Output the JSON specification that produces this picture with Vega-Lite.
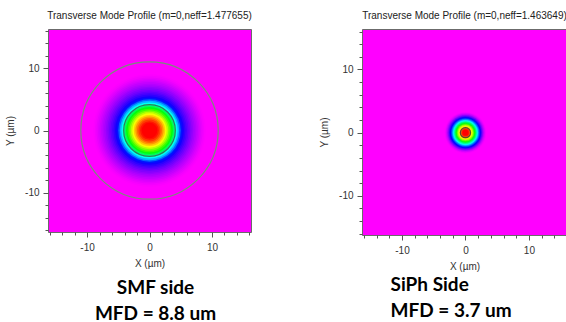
{
  "$schema": "https://vega.github.io/schema/vega-lite/v6.json",
  "background": "white",
  "padding": {"left": 5, "top": 10, "right": 0, "bottom": 0},
  "datasets": {
    "smfRings": [
      {"x": 0, "y": 0, "r": 9.0, "v": 0.003}, {"x": 0, "y": 0, "r": 8.75, "v": 0.009},
      {"x": 0, "y": 0, "r": 8.5, "v": 0.017}, {"x": 0, "y": 0, "r": 8.25, "v": 0.026},
      {"x": 0, "y": 0, "r": 8.0, "v": 0.036}, {"x": 0, "y": 0, "r": 7.75, "v": 0.047},
      {"x": 0, "y": 0, "r": 7.5, "v": 0.058}, {"x": 0, "y": 0, "r": 7.25, "v": 0.07},
      {"x": 0, "y": 0, "r": 7.0, "v": 0.083}, {"x": 0, "y": 0, "r": 6.75, "v": 0.097},
      {"x": 0, "y": 0, "r": 6.5, "v": 0.112}, {"x": 0, "y": 0, "r": 6.25, "v": 0.128},
      {"x": 0, "y": 0, "r": 6.0, "v": 0.145}, {"x": 0, "y": 0, "r": 5.75, "v": 0.163},
      {"x": 0, "y": 0, "r": 5.5, "v": 0.185}, {"x": 0, "y": 0, "r": 5.25, "v": 0.215},
      {"x": 0, "y": 0, "r": 5.0, "v": 0.28}, {"x": 0, "y": 0, "r": 4.75, "v": 0.345},
      {"x": 0, "y": 0, "r": 4.5, "v": 0.41}, {"x": 0, "y": 0, "r": 4.25, "v": 0.475},
      {"x": 0, "y": 0, "r": 4.0, "v": 0.535}, {"x": 0, "y": 0, "r": 3.75, "v": 0.59},
      {"x": 0, "y": 0, "r": 3.5, "v": 0.643}, {"x": 0, "y": 0, "r": 3.25, "v": 0.695},
      {"x": 0, "y": 0, "r": 3.0, "v": 0.745}, {"x": 0, "y": 0, "r": 2.75, "v": 0.792},
      {"x": 0, "y": 0, "r": 2.5, "v": 0.83}, {"x": 0, "y": 0, "r": 2.25, "v": 0.862},
      {"x": 0, "y": 0, "r": 2.0, "v": 0.89}, {"x": 0, "y": 0, "r": 1.75, "v": 0.915},
      {"x": 0, "y": 0, "r": 1.5, "v": 0.938}, {"x": 0, "y": 0, "r": 1.25, "v": 0.958},
      {"x": 0, "y": 0, "r": 1.0, "v": 0.973}, {"x": 0, "y": 0, "r": 0.75, "v": 0.985},
      {"x": 0, "y": 0, "r": 0.5, "v": 0.993}, {"x": 0, "y": 0, "r": 0.25, "v": 0.998}
    ],
    "smfLines": [
      {"x": 0, "y": 0, "r": 4.13, "kind": "core"},
      {"x": 0, "y": 0, "r": 11.0, "kind": "cladding"}
    ],
    "siphRings": [
      {"x": 0, "y": 0, "r": 3.3, "v": 0.004}, {"x": 0, "y": 0, "r": 3.2, "v": 0.012},
      {"x": 0, "y": 0, "r": 3.1, "v": 0.025}, {"x": 0, "y": 0, "r": 3.0, "v": 0.04},
      {"x": 0, "y": 0, "r": 2.9, "v": 0.06}, {"x": 0, "y": 0, "r": 2.8, "v": 0.085},
      {"x": 0, "y": 0, "r": 2.7, "v": 0.11}, {"x": 0, "y": 0, "r": 2.6, "v": 0.14},
      {"x": 0, "y": 0, "r": 2.5, "v": 0.17}, {"x": 0, "y": 0, "r": 2.4, "v": 0.2},
      {"x": 0, "y": 0, "r": 2.3, "v": 0.235}, {"x": 0, "y": 0, "r": 2.2, "v": 0.275},
      {"x": 0, "y": 0, "r": 2.1, "v": 0.32}, {"x": 0, "y": 0, "r": 2.0, "v": 0.37},
      {"x": 0, "y": 0, "r": 1.9, "v": 0.415}, {"x": 0, "y": 0, "r": 1.8, "v": 0.465},
      {"x": 0, "y": 0, "r": 1.7, "v": 0.515}, {"x": 0, "y": 0, "r": 1.6, "v": 0.565},
      {"x": 0, "y": 0, "r": 1.5, "v": 0.61}, {"x": 0, "y": 0, "r": 1.4, "v": 0.655},
      {"x": 0, "y": 0, "r": 1.3, "v": 0.7}, {"x": 0, "y": 0, "r": 1.2, "v": 0.745},
      {"x": 0, "y": 0, "r": 1.1, "v": 0.785}, {"x": 0, "y": 0, "r": 1.0, "v": 0.815},
      {"x": 0, "y": 0, "r": 0.9, "v": 0.845}, {"x": 0, "y": 0, "r": 0.8, "v": 0.875},
      {"x": 0, "y": 0, "r": 0.7, "v": 0.905}, {"x": 0, "y": 0, "r": 0.6, "v": 0.928},
      {"x": 0, "y": 0, "r": 0.5, "v": 0.945}, {"x": 0, "y": 0, "r": 0.4, "v": 0.962},
      {"x": 0, "y": 0, "r": 0.3, "v": 0.978}, {"x": 0, "y": 0, "r": 0.2, "v": 0.99},
      {"x": 0, "y": 0, "r": 0.1, "v": 0.998}
    ],
    "siphLines": [
      {"x": 0, "y": 0, "r": 0.8, "kind": "core"}
    ]
  },
  "spacing": 66,
  "hconcat": [
    {
      "width": 203,
      "height": 203,
      "title": {"text": "Transverse Mode Profile (m=0,neff=1.477655)"},
      "layer": [
        {
          "data": {"name": "smfRings"},
          "mark": {"type": "point", "shape": "circle", "filled": true, "opacity": 1, "strokeWidth": 0},
          "encoding": {
            "x": {"field": "x", "type": "quantitative",
              "scale": {"domain": [-16.25, 16.25], "nice": false, "zero": false},
              "axis": {"orient": "bottom", "title": "X (µm)", "values": [-16,-14,-12,-10,-8,-6,-4,-2,0,2,4,6,8,10,12,14,16],
                "labelExpr": "datum.value % 10 === 0 ? '' + datum.value : ''",
                "tickSize": {"condition": {"test": "datum.value % 10 === 0", "value": 5}, "value": 3},
                "labelPadding": 5, "titlePadding": 6}},
            "y": {"field": "y", "type": "quantitative",
              "scale": {"domain": [-16.25, 16.25], "nice": false, "zero": false},
              "axis": {"title": "Y (µm)", "values": [-16,-14,-12,-10,-8,-6,-4,-2,0,2,4,6,8,10,12,14,16],
                "labelExpr": "datum.value % 10 === 0 ? '' + datum.value : ''",
                "tickSize": {"condition": {"test": "datum.value % 10 === 0", "value": 5}, "value": 3},
                "labelPadding": 4, "titlePadding": 9}},
            "size": {"field": "r", "type": "quantitative",
              "scale": {"type": "pow", "exponent": 2, "domain": [0, 10], "range": [0, 15605]}, "legend": null},
            "color": {"field": "v", "type": "quantitative",
              "scale": {"type": "linear", "domain": [0, 0.2, 0.4, 0.6, 0.8, 0.95],
                "range": ["#ff00ff", "#0000ff", "#00ffff", "#00ff00", "#ffff00", "#ff0000"],
                "interpolate": "rgb", "clamp": true}, "legend": null}
          }
        },
        {
          "data": {"name": "smfLines"},
          "mark": {"type": "point", "shape": "circle", "filled": false, "opacity": 1, "strokeWidth": 1.2},
          "encoding": {
            "x": {"field": "x", "type": "quantitative",
              "scale": {"domain": [-16.25, 16.25], "nice": false, "zero": false},
              "axis": {"orient": "bottom", "title": ["SMF side", "MFD = 8.8 um"], "labels": false, "ticks": false, "domain": false,
                "titleFont": "Lato", "titleFontSize": 19, "titleFontWeight": "bold", "titleColor": "#000000",
                "titleAlign": "center", "titleBaseline": "alphabetic", "titleLineHeight": 26,
                "titleX": 107, "titleY": 61}},
            "y": {"field": "y", "type": "quantitative",
              "scale": {"domain": [-16.25, 16.25], "nice": false, "zero": false},
              "axis": {"title": "Y (µm)", "values": [-16,-14,-12,-10,-8,-6,-4,-2,0,2,4,6,8,10,12,14,16],
                "labelExpr": "datum.value % 10 === 0 ? '' + datum.value : ''",
                "tickSize": {"condition": {"test": "datum.value % 10 === 0", "value": 5}, "value": 3},
                "labelPadding": 4, "titlePadding": 9}},
            "size": {"field": "r", "type": "quantitative",
              "scale": {"type": "pow", "exponent": 2, "domain": [0, 10], "range": [0, 15605]}, "legend": null},
            "stroke": {"field": "kind", "type": "nominal",
              "scale": {"domain": ["core", "cladding"], "range": ["#2e7d5b", "#7a8c7a"]}, "legend": null}
          }
        }
      ],
      "resolve": {"axis": {"x": "independent"}}
    },
    {
      "width": 205,
      "height": 206,
      "title": {"text": "Transverse Mode Profile (m=0,neff=1.463649)"},
      "layer": [
        {
          "data": {"name": "siphRings"},
          "mark": {"type": "point", "shape": "circle", "filled": true, "opacity": 1, "strokeWidth": 0},
          "encoding": {
            "x": {"field": "x", "type": "quantitative",
              "scale": {"domain": [-16.3, 16.0], "nice": false, "zero": false},
              "axis": {"orient": "bottom", "title": "X (µm)", "values": [-16,-14,-12,-10,-8,-6,-4,-2,0,2,4,6,8,10,12,14,16],
                "labelExpr": "datum.value % 10 === 0 ? '' + datum.value : ''",
                "tickSize": {"condition": {"test": "datum.value % 10 === 0", "value": 5}, "value": 3},
                "labelPadding": 5, "titlePadding": 6}},
            "y": {"field": "y", "type": "quantitative",
              "scale": {"domain": [-16.2, 16.4], "nice": false, "zero": false},
              "axis": {"title": "Y (µm)", "values": [-16,-14,-12,-10,-8,-6,-4,-2,0,2,4,6,8,10,12,14,16],
                "labelExpr": "datum.value % 10 === 0 ? '' + datum.value : ''",
                "tickSize": {"condition": {"test": "datum.value % 10 === 0", "value": 5}, "value": 3},
                "labelPadding": 4, "titlePadding": 9}},
            "size": {"field": "r", "type": "quantitative",
              "scale": {"type": "pow", "exponent": 2, "domain": [0, 10], "range": [0, 16028]}, "legend": null},
            "color": {"field": "v", "type": "quantitative",
              "scale": {"type": "linear", "domain": [0, 0.2, 0.4, 0.6, 0.8, 0.95],
                "range": ["#ff00ff", "#0000ff", "#00ffff", "#00ff00", "#ffff00", "#ff0000"],
                "interpolate": "rgb", "clamp": true}, "legend": null}
          }
        },
        {
          "data": {"name": "siphLines"},
          "mark": {"type": "point", "shape": "circle", "filled": false, "opacity": 1, "strokeWidth": 1.2},
          "encoding": {
            "x": {"field": "x", "type": "quantitative",
              "scale": {"domain": [-16.3, 16.0], "nice": false, "zero": false},
              "axis": {"orient": "bottom", "title": ["SiPh Side", "MFD = 3.7 um"], "labels": false, "ticks": false, "domain": false,
                "titleFont": "Lato", "titleFontSize": 19, "titleFontWeight": "bold", "titleColor": "#000000",
                "titleAlign": "left", "titleBaseline": "alphabetic", "titleLineHeight": 26,
                "titleX": 28, "titleY": 55}},
            "y": {"field": "y", "type": "quantitative",
              "scale": {"domain": [-16.2, 16.4], "nice": false, "zero": false},
              "axis": {"title": "Y (µm)", "values": [-16,-14,-12,-10,-8,-6,-4,-2,0,2,4,6,8,10,12,14,16],
                "labelExpr": "datum.value % 10 === 0 ? '' + datum.value : ''",
                "tickSize": {"condition": {"test": "datum.value % 10 === 0", "value": 5}, "value": 3},
                "labelPadding": 4, "titlePadding": 9}},
            "size": {"field": "r", "type": "quantitative",
              "scale": {"type": "pow", "exponent": 2, "domain": [0, 10], "range": [0, 16028]}, "legend": null},
            "stroke": {"field": "kind", "type": "nominal",
              "scale": {"domain": ["core"], "range": ["#5b4a2b"]}, "legend": null}
          }
        }
      ],
      "resolve": {"axis": {"x": "independent"}}
    }
  ],
  "resolve": {"scale": {"size": "independent", "x": "independent", "y": "independent", "color": "independent", "stroke": "independent"}},
  "config": {
    "view": {"fill": "#ff00ff", "stroke": "#6b6b6b", "strokeWidth": 1},
    "axis": {"grid": false, "domain": false, "labelFont": "Liberation Sans", "labelFontSize": 10, "labelColor": "#333333",
      "titleFont": "Liberation Sans", "titleFontSize": 10, "titleFontWeight": "normal", "titleColor": "#333333",
      "tickColor": "#555555", "tickWidth": 1},
    "title": {"font": "Liberation Sans", "fontSize": 10, "fontWeight": "normal", "color": "#222222", "offset": 8, "anchor": "middle"}
  }
}
